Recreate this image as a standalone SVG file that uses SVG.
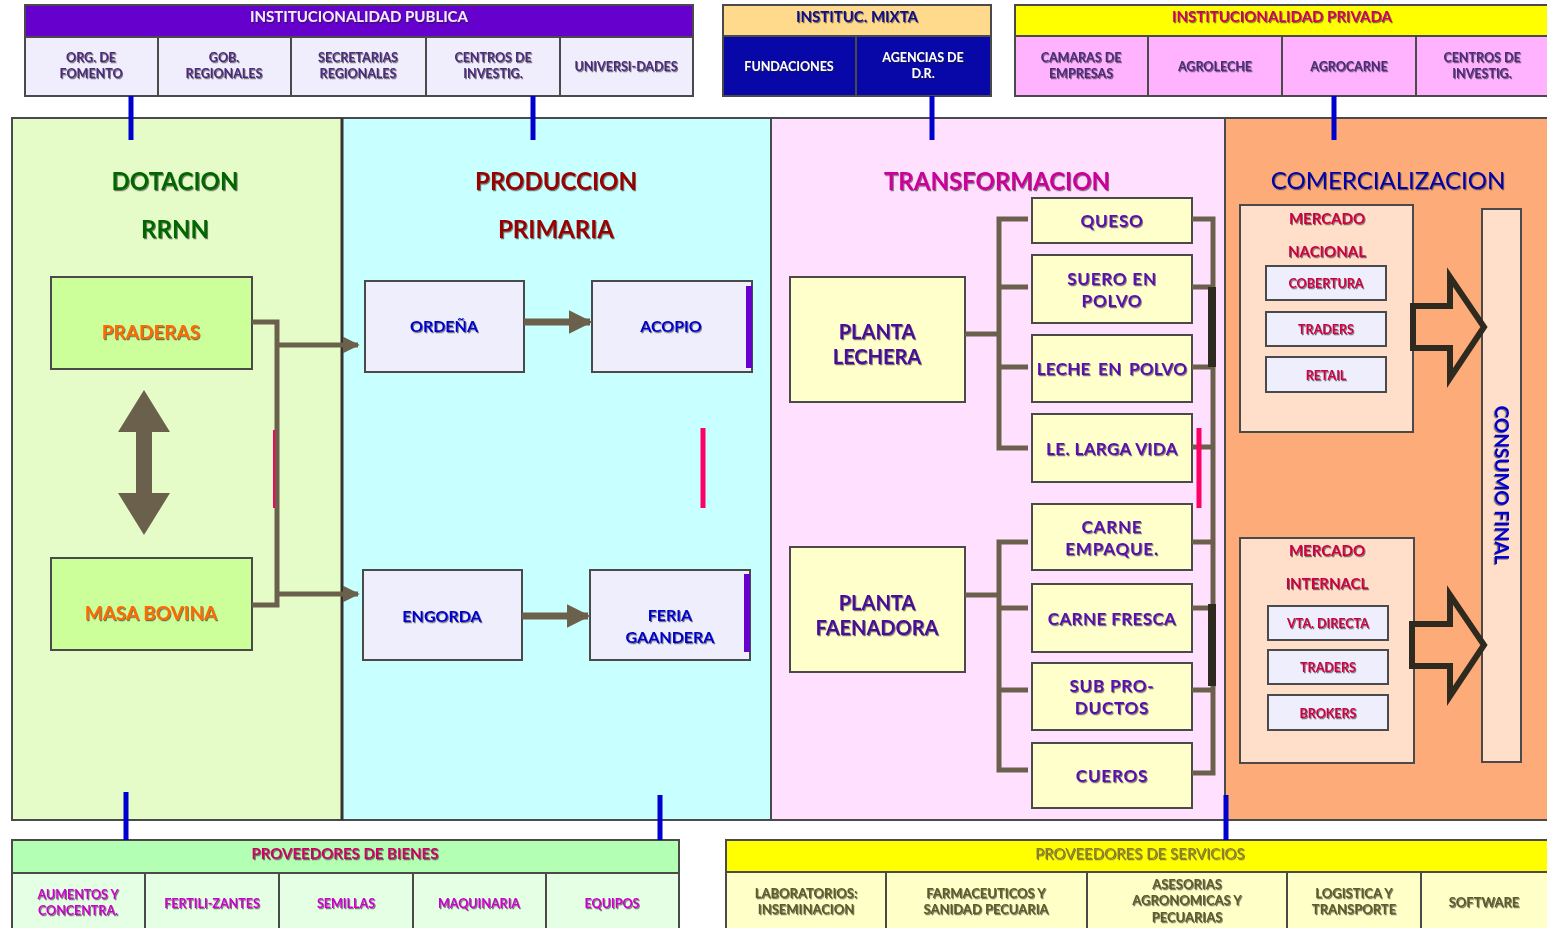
<svg xmlns="http://www.w3.org/2000/svg" width="1547" height="928" viewBox="0 0 1547 928">
<style>
text{font-family:Lato,"Liberation Sans",sans-serif;font-weight:bold;text-anchor:middle}
.sh{filter:url(#sh)}
.bx{stroke:#4a4a4a;stroke-width:2}
.ln{stroke:#6b604c;stroke-width:5;fill:none}
.blue{stroke:#0000cc;stroke-width:5}
.cell{font-size:12.5px;fill:#4b2a7a}
.ttl{font-size:24px}
.nd{font-size:17px;fill:#5a0eb0;letter-spacing:0.8px}
.pl{font-size:20px;fill:#4a0a9a}
.cm{font-size:12.5px;fill:#cc0044}
.pv{font-size:13px;fill:#5a5a2a}
</style>
<defs>
<filter id="sh" x="-10%" y="-30%" width="120%" height="160%">
<feDropShadow dx="1" dy="1.2" stdDeviation="0.7" flood-color="#222" flood-opacity="0.6"/>
</filter>
<marker id="ah" viewBox="0 0 10 10" refX="9" refY="5" markerWidth="3.4" markerHeight="3.4" orient="auto" markerUnits="strokeWidth">
<path d="M0,0 L10,5 L0,10 z" fill="#6b604c"/>
</marker>
</defs>

<!-- top institutions -->
<g id="inst-publica">
<rect x="25" y="5" width="668" height="32" fill="#6600cc" class="bx"/>
<rect x="25" y="37" width="668" height="59" fill="#f0eefc" class="bx"/>
<path d="M158,37V96M291,37V96M426,37V96M560,37V96" stroke="#4a4a4a" stroke-width="2"/>
<text x="359" y="22" font-size="15" fill="#f4ecff" class="sh">INSTITUCIONALIDAD PUBLICA</text>
<text class="cell sh" x="91" y="62">ORG. DE</text><text class="cell sh" x="91" y="78">FOMENTO</text>
<text class="cell sh" x="224" y="62">GOB.</text><text class="cell sh" x="224" y="78">REGIONALES</text>
<text class="cell sh" x="358" y="62">SECRETARIAS</text><text class="cell sh" x="358" y="78">REGIONALES</text>
<text class="cell sh" x="493" y="62">CENTROS DE</text><text class="cell sh" x="493" y="78">INVESTIG.</text>
<text class="cell sh" x="626" y="71">UNIVERSI-DADES</text>
</g>
<g id="inst-mixta">
<rect x="723" y="5" width="268" height="31" fill="#ffd98c" class="bx"/>
<rect x="723" y="36" width="268" height="60" fill="#0808a8" class="bx"/>
<path d="M856,36V96" stroke="#4a4a4a" stroke-width="2"/>
<text x="857" y="22" font-size="15" fill="#10108a" class="sh">INSTITUC. MIXTA</text>
<text x="789" y="71" font-size="12.5" fill="#ffffff" class="sh">FUNDACIONES</text>
<text x="923" y="62" font-size="12.5" fill="#ffffff" class="sh">AGENCIAS DE</text>
<text x="923" y="78" font-size="12.5" fill="#ffffff" class="sh">D.R.</text>
</g>
<g id="inst-privada">
<rect x="1015" y="5" width="540" height="31" fill="#ffff00" class="bx"/>
<rect x="1015" y="36" width="540" height="60" fill="#ffb3ff" class="bx"/>
<path d="M1148,36V96M1282,36V96M1416,36V96" stroke="#4a4a4a" stroke-width="2"/>
<text x="1282" y="22" font-size="15" fill="#cc0066" class="sh">INSTITUCIONALIDAD PRIVADA</text>
<text class="cell sh" x="1081" y="62">CAMARAS DE</text><text class="cell sh" x="1081" y="78">EMPRESAS</text>
<text class="cell sh" x="1215" y="71">AGROLECHE</text>
<text class="cell sh" x="1349" y="71">AGROCARNE</text>
<text class="cell sh" x="1482" y="62">CENTROS DE</text><text class="cell sh" x="1482" y="78">INVESTIG.</text>
</g>

<!-- main panels -->
<g id="panel-dotacion">
<rect x="12" y="118" width="330" height="702" fill="#e5fcc8" class="bx"/>
<text class="ttl sh" x="175" y="190" fill="#006600">DOTACION</text>
<text class="ttl sh" x="175" y="238" fill="#006600">RRNN</text>
</g>
<g id="panel-produccion">
<rect x="342" y="118" width="429" height="702" fill="#c8ffff" class="bx"/>
<line x1="342" y1="118" x2="342" y2="820" stroke="#333" stroke-width="3"/>
<text class="ttl sh" x="556" y="190" fill="#990000">PRODUCCION</text>
<text class="ttl sh" x="556" y="238" fill="#990000">PRIMARIA</text>
</g>
<g id="panel-transformacion">
<rect x="771" y="118" width="454" height="702" fill="#ffe0ff" class="bx"/>
<text class="ttl sh" x="997" y="190" fill="#cc0099">TRANSFORMACION</text>
</g>
<g id="panel-comercializacion">
<rect x="1225" y="118" width="330" height="702" fill="#fdab78" class="bx"/>
<text x="1388" y="189" font-size="24" fill="#0000aa" class="sh" style="font-weight:normal">COMERCIALIZACION</text>
</g>

<!-- Dotacion nodes -->
<g id="praderas">
<rect x="51" y="277" width="201" height="92" fill="#ccff99" class="bx"/>
<text x="151" y="339" font-size="19" fill="#ff6a00" class="sh">PRADERAS</text>
</g>
<g id="masa-bovina">
<rect x="51" y="558" width="201" height="92" fill="#ccff99" class="bx"/>
<text x="151" y="620" font-size="19" fill="#ff6a00" class="sh">MASA BOVINA</text>
</g>

<!-- Produccion nodes -->
<g id="ordena">
<rect x="365" y="281" width="159" height="91" fill="#eeeefc" class="bx"/>
<text x="444" y="332" font-size="16" fill="#0000cc" class="sh">ORDEÑA</text>
</g>
<g id="acopio">
<rect x="592" y="281" width="160" height="91" fill="#eeeefc" class="bx"/>
<text x="671" y="332" font-size="16" fill="#0000cc" class="sh">ACOPIO</text>
<line x1="749" y1="286" x2="749" y2="368" stroke="#6600cc" stroke-width="6"/>
</g>
<g id="engorda">
<rect x="363" y="570" width="159" height="90" fill="#eeeefc" class="bx"/>
<text x="442" y="622" font-size="16" fill="#0000cc" class="sh">ENGORDA</text>
</g>
<g id="feria">
<rect x="590" y="570" width="160" height="90" fill="#eeeefc" class="bx"/>
<text x="670" y="621" font-size="16" fill="#0000cc" class="sh">FERIA</text>
<text x="670" y="643" font-size="16" fill="#0000cc" class="sh">GAANDERA</text>
<line x1="747" y1="574" x2="747" y2="652" stroke="#6600cc" stroke-width="6"/>
</g>

<!-- Transformacion nodes -->
<g id="planta-lechera">
<rect x="790" y="277" width="175" height="125" fill="#ffffcc" class="bx"/>
<text class="pl sh" x="877" y="339">PLANTA</text><text class="pl sh" x="877" y="364">LECHERA</text>
</g>
<g id="planta-faenadora">
<rect x="790" y="547" width="175" height="125" fill="#ffffcc" class="bx"/>
<text class="pl sh" x="877" y="610">PLANTA</text><text class="pl sh" x="877" y="635">FAENADORA</text>
</g>
<g id="queso"><rect x="1032" y="198" width="160" height="45" fill="#ffffcc" class="bx"/><text class="nd sh" x="1112" y="227">QUESO</text></g>
<g id="suero"><rect x="1032" y="255" width="160" height="68" fill="#ffffcc" class="bx"/><text class="nd sh" x="1112" y="285">SUERO EN</text><text class="nd sh" x="1112" y="307">POLVO</text></g>
<g id="leche-polvo"><rect x="1032" y="335" width="160" height="67" fill="#ffffcc" class="bx"/><text class="nd sh" x="1112" y="375" style="letter-spacing:0.3px;word-spacing:3px">LECHE EN POLVO</text></g>
<g id="larga-vida"><rect x="1032" y="414" width="160" height="68" fill="#ffffcc" class="bx"/><text class="nd sh" x="1112" y="455" style="letter-spacing:0.4px">LE. LARGA VIDA</text></g>
<g id="carne-empaque"><rect x="1032" y="504" width="160" height="66" fill="#ffffcc" class="bx"/><text class="nd sh" x="1112" y="533">CARNE</text><text class="nd sh" x="1112" y="555">EMPAQUE.</text></g>
<g id="carne-fresca"><rect x="1032" y="584" width="160" height="68" fill="#ffffcc" class="bx"/><text class="nd sh" x="1112" y="625" style="letter-spacing:0.4px">CARNE FRESCA</text></g>
<g id="sub-productos"><rect x="1032" y="663" width="160" height="67" fill="#ffffcc" class="bx"/><text class="nd sh" x="1112" y="692">SUB PRO-</text><text class="nd sh" x="1112" y="714">DUCTOS</text></g>
<g id="cueros"><rect x="1032" y="743" width="160" height="65" fill="#ffffcc" class="bx"/><text class="nd sh" x="1112" y="782">CUEROS</text></g>

<!-- Comercializacion nodes -->
<g id="mercado-nacional">
<rect x="1240" y="205" width="173" height="227" fill="#ffdfc9" class="bx"/>
<text x="1327" y="224" font-size="15" fill="#cc0044" class="sh">MERCADO</text>
<text x="1327" y="257" font-size="15" fill="#cc0044" class="sh">NACIONAL</text>
<rect x="1266" y="266" width="120" height="34" fill="#eeeefc" class="bx"/><text class="cm sh" x="1326" y="288">COBERTURA</text>
<rect x="1266" y="312" width="120" height="34" fill="#eeeefc" class="bx"/><text class="cm sh" x="1326" y="334">TRADERS</text>
<rect x="1266" y="357" width="120" height="35" fill="#eeeefc" class="bx"/><text class="cm sh" x="1326" y="380">RETAIL</text>
</g>
<g id="mercado-internacional">
<rect x="1240" y="538" width="174" height="225" fill="#ffdfc9" class="bx"/>
<text x="1327" y="556" font-size="15" fill="#cc0044" class="sh">MERCADO</text>
<text x="1327" y="589" font-size="15" fill="#cc0044" class="sh">INTERNACL</text>
<rect x="1268" y="606" width="120" height="34" fill="#eeeefc" class="bx"/><text class="cm sh" x="1328" y="628">VTA. DIRECTA</text>
<rect x="1268" y="650" width="120" height="34" fill="#eeeefc" class="bx"/><text class="cm sh" x="1328" y="672">TRADERS</text>
<rect x="1268" y="695" width="120" height="35" fill="#eeeefc" class="bx"/><text class="cm sh" x="1328" y="718">BROKERS</text>
</g>
<g id="consumo-final">
<rect x="1482" y="209" width="39" height="553" fill="#ffdfc9" class="bx"/>
<text x="0" y="0" font-size="19" fill="#0000cc" class="sh" transform="translate(1495,485) rotate(90)">CONSUMO FINAL</text>
</g>

<!-- bottom providers -->
<g id="prov-bienes">
<rect x="12" y="840" width="667" height="33" fill="#b3ffb3" class="bx"/>
<rect x="12" y="873" width="667" height="60" fill="#e5ffe5" class="bx"/>
<path d="M145,873V928M279,873V928M413,873V928M546,873V928" stroke="#4a4a4a" stroke-width="2"/>
<text x="345" y="859" font-size="15" fill="#cc0066" class="sh">PROVEEDORES DE BIENES</text>
<text x="78" y="899" font-size="12.5" fill="#cc00cc" class="sh">AUMENTOS Y</text>
<text x="78" y="915" font-size="12.5" fill="#cc00cc" class="sh">CONCENTRA.</text>
<text x="212" y="908" font-size="12.5" fill="#cc00cc" class="sh">FERTILI-ZANTES</text>
<text x="346" y="908" font-size="12.5" fill="#cc00cc" class="sh">SEMILLAS</text>
<text x="479" y="908" font-size="12.5" fill="#cc00cc" class="sh">MAQUINARIA</text>
<text x="612" y="908" font-size="12.5" fill="#cc00cc" class="sh">EQUIPOS</text>
</g>
<g id="prov-servicios">
<rect x="726" y="840" width="830" height="32" fill="#ffff00" class="bx"/>
<rect x="726" y="872" width="830" height="60" fill="#ffffc8" class="bx"/>
<path d="M886,872V928M1087,872V928M1287,872V928M1421,872V928" stroke="#4a4a4a" stroke-width="2"/>
<text x="1140" y="859" font-size="15" fill="#8a7a3a" class="sh" style="font-weight:normal">PROVEEDORES DE SERVICIOS</text>
<text class="pv sh" x="806" y="898">LABORATORIOS:</text><text class="pv sh" x="806" y="914">INSEMINACION</text>
<text class="pv sh" x="986" y="898">FARMACEUTICOS Y</text><text class="pv sh" x="986" y="914">SANIDAD PECUARIA</text>
<text class="pv sh" x="1187" y="889">ASESORIAS</text><text class="pv sh" x="1187" y="905">AGRONOMICAS Y</text><text class="pv sh" x="1187" y="922">PECUARIAS</text>
<text class="pv sh" x="1354" y="898">LOGISTICA Y</text><text class="pv sh" x="1354" y="914">TRANSPORTE</text>
<text class="pv sh" x="1484" y="907">SOFTWARE</text>
</g>

<!-- connectors -->
<g id="connectors">
<line class="blue" x1="131" y1="96" x2="131" y2="140"/>
<line class="blue" x1="533" y1="96" x2="533" y2="140"/>
<line class="blue" x1="932" y1="96" x2="932" y2="140"/>
<line class="blue" x1="1334" y1="96" x2="1334" y2="140"/>
<line class="blue" x1="126" y1="792" x2="126" y2="840"/>
<line class="blue" x1="660" y1="795" x2="660" y2="840"/>
<line class="blue" x1="1226" y1="795" x2="1226" y2="840"/>
<polygon points="144,390 170,432 152,432 152,493 170,493 144,535 118,493 136,493 136,432 118,432" fill="#6b604c"/>
<path class="ln" d="M252,322H277V605H252"/>
<line class="ln" x1="277" y1="345" x2="358" y2="345" marker-end="url(#ah)"/>
<line class="ln" x1="277" y1="594" x2="358" y2="594" marker-end="url(#ah)"/>
<line x1="274" y1="430" x2="274" y2="508" stroke="#ff0066" stroke-width="2"/>
<line x1="524" y1="322" x2="590" y2="322" stroke="#6b604c" stroke-width="7" marker-end="url(#ah)"/>
<line x1="522" y1="616" x2="588" y2="616" stroke="#6b604c" stroke-width="7" marker-end="url(#ah)"/>
<line x1="703" y1="428" x2="703" y2="508" stroke="#ff0066" stroke-width="5"/>
<path class="ln" d="M965,334H999M1028,219H999V448H1028M999,287H1028M999,367H1028"/>
<path class="ln" d="M965,595H999M1028,542H999V770H1028M999,608H1028M999,690H1028"/>
<path class="ln" d="M1192,219H1213V773H1192M1192,287H1213M1192,367H1213M1192,447H1213M1192,542H1213M1192,608H1213M1192,690H1213"/>
<line x1="1212" y1="287" x2="1212" y2="367" stroke="#2f2a1f" stroke-width="8"/>
<line x1="1212" y1="604" x2="1212" y2="686" stroke="#2f2a1f" stroke-width="8"/>
<line x1="1199" y1="428" x2="1199" y2="508" stroke="#ff0066" stroke-width="5"/>
<polygon points="1413,306 1450,306 1450,277 1484,327 1450,378 1450,348 1413,348" fill="#fdab78" stroke="#2f2a1f" stroke-width="6" stroke-linejoin="miter"/>
<polygon points="1412,624 1450,624 1450,595 1484,645 1450,696 1450,666 1412,666" fill="#fdab78" stroke="#2f2a1f" stroke-width="6" stroke-linejoin="miter"/>
</g>
</svg>
